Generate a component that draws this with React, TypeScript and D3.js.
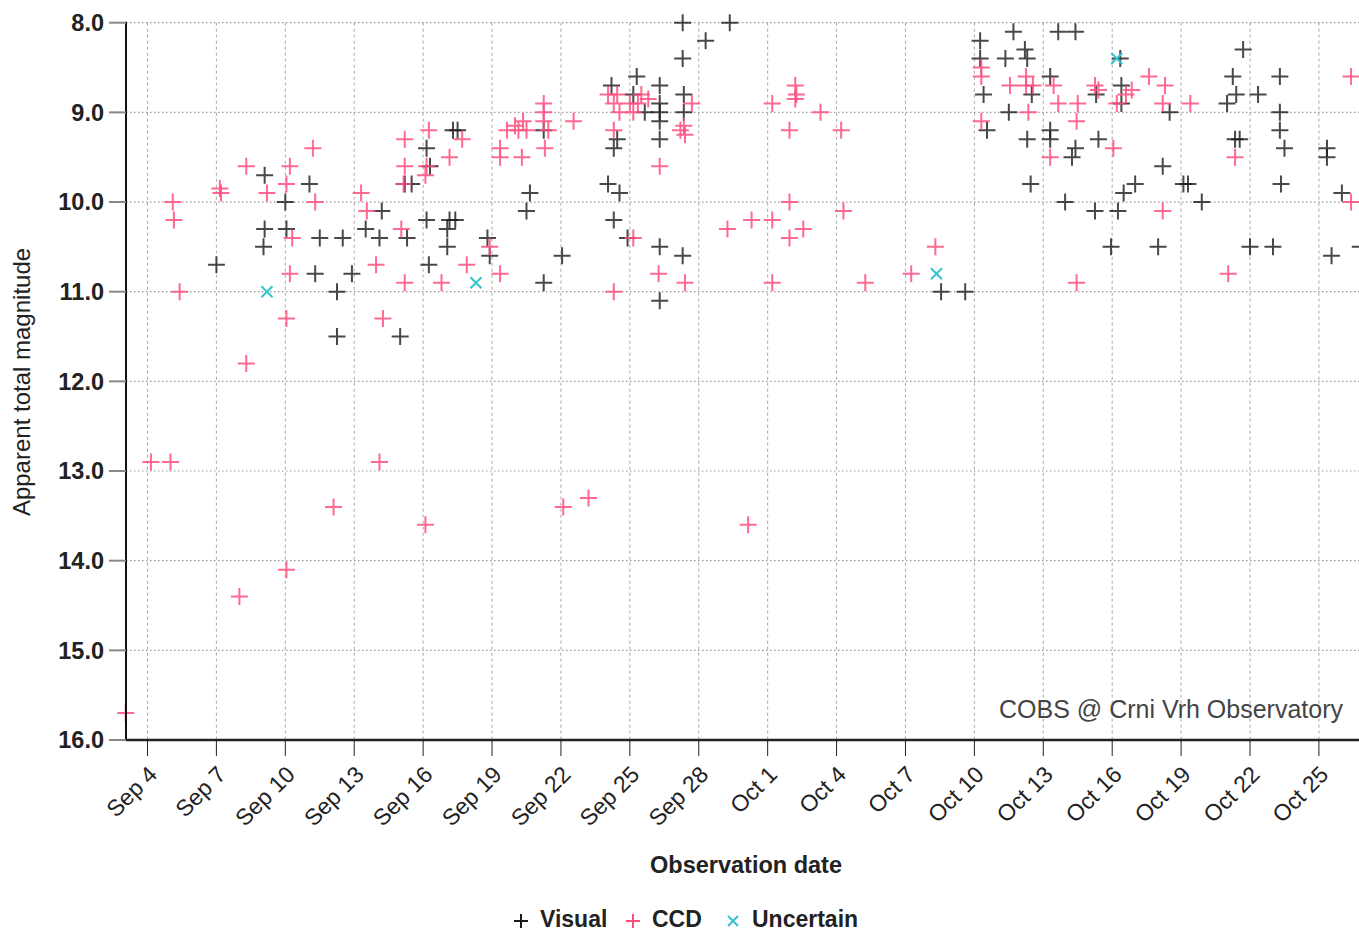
import React, { useEffect, useRef } from 'react';
import * as d3 from 'd3';

const width = 1359;
const height = 933;
const plotLeft = 126;
const plotTop = 22.7;
const plotBottom = 740;

// [day of September (Oct 1 = 31), apparent total magnitude]
const visual: [number, number][] = [
  [7.0, 10.7], [9.1, 9.7], [9.1, 10.3], [9.05, 10.5], [10.0, 10.0], [10.05, 10.3],
  [11.05, 9.8], [11.5, 10.4], [11.3, 10.8], [12.5, 10.4], [12.25, 11.0], [12.25, 11.5],
  [12.9, 10.8], [13.5, 10.3], [14.1, 10.4], [14.2, 10.1], [15.0, 11.5], [15.3, 10.4],
  [15.2, 9.8], [15.5, 9.8], [16.15, 9.4], [16.3, 9.6], [16.15, 10.2], [16.25, 10.7],
  [17.3, 9.2], [17.5, 9.2], [17.05, 10.5], [17.05, 10.3], [17.15, 10.2], [17.4, 10.2],
  [18.8, 10.4], [18.9, 10.6], [20.5, 10.1], [20.65, 9.9], [21.25, 9.2], [21.25, 10.9],
  [22.05, 10.6],
  [24.2, 8.7], [25.3, 8.6], [25.15, 8.8], [25.65, 9.0], [26.3, 8.7], [26.3, 8.9],
  [26.3, 9.0], [26.3, 9.1], [26.3, 9.3], [27.3, 8.0], [29.35, 8.0], [28.3, 8.2],
  [27.3, 8.4], [27.35, 8.8], [27.35, 9.0], [24.45, 9.3], [24.3, 9.4], [24.05, 9.8],
  [24.55, 9.9], [24.3, 10.2], [24.9, 10.4], [26.3, 10.5], [27.3, 10.6], [26.3, 11.1],
  [38.55, 11.0], [39.6, 11.0], [40.25, 8.2], [40.25, 8.4], [40.4, 8.8], [40.55, 9.2],
  [41.7, 8.1], [41.35, 8.4], [41.5, 9.0], [42.2, 8.3], [42.3, 8.4], [42.5, 8.8],
  [42.3, 9.3], [42.45, 9.8], [43.65, 8.1], [44.4, 8.1], [43.3, 8.6], [43.3, 9.2],
  [43.3, 9.3], [44.4, 9.4], [44.25, 9.5], [43.95, 10.0], [45.3, 8.8], [45.4, 9.3],
  [45.25, 10.1], [46.25, 10.1], [45.95, 10.5], [46.35, 8.4], [46.4, 8.7], [46.4, 8.9],
  [46.5, 9.9], [47.0, 9.8], [48.5, 9.0], [48.2, 9.6], [48.0, 10.5], [49.1, 9.8],
  [49.3, 9.8], [49.9, 10.0], [51.7, 8.3], [51.25, 8.6], [51.4, 8.8], [51.0, 8.9],
  [52.35, 8.8], [51.35, 9.3], [51.55, 9.3], [52.0, 10.5], [53.0, 10.5], [53.3, 8.6],
  [53.3, 9.0], [53.3, 9.2], [53.5, 9.4], [53.35, 9.8], [55.35, 9.4], [55.35, 9.5],
  [55.55, 10.6], [56.0, 9.9], [56.8, 10.5],
];

const ccd: [number, number][] = [
  [3.05, 15.7], [4.15, 12.9], [5.0, 12.9], [5.1, 10.0], [5.15, 10.2], [5.4, 11.0],
  [7.15, 9.85], [7.2, 9.9], [8.0, 14.4], [8.3, 9.6], [8.3, 11.8], [9.2, 9.9],
  [10.05, 9.8], [10.2, 9.6], [10.3, 10.4], [10.2, 10.8], [10.05, 11.3], [10.05, 14.1],
  [11.2, 9.4], [11.3, 10.0], [12.1, 13.4], [13.3, 9.9], [13.55, 10.1], [13.95, 10.7],
  [14.1, 12.9], [14.25, 11.3], [15.2, 9.3], [15.2, 9.6], [15.15, 9.8], [15.05, 10.3],
  [15.2, 10.9], [16.1, 9.7], [16.15, 9.6], [16.25, 9.2], [16.1, 13.6], [16.8, 10.9],
  [17.15, 9.5], [17.7, 9.3], [17.9, 10.7], [18.9, 10.5], [19.35, 10.8], [19.35, 9.4],
  [19.35, 9.5], [19.65, 9.2], [20.0, 9.15], [20.15, 9.2], [20.35, 9.1], [20.5, 9.2],
  [20.3, 9.5], [21.25, 8.9], [21.25, 9.0], [21.25, 9.1], [21.45, 9.2], [21.3, 9.4],
  [22.55, 9.1], [22.1, 13.4], [23.2, 13.3],
  [24.05, 8.8], [24.45, 8.8], [24.3, 8.9], [24.55, 9.0], [25.0, 8.9], [25.15, 9.0],
  [25.5, 8.8], [25.8, 8.85], [25.35, 8.9], [24.3, 9.2], [24.3, 11.0], [25.15, 10.4],
  [26.3, 9.6], [26.25, 10.8], [27.2, 9.2], [27.35, 9.15], [27.4, 9.25], [27.7, 8.9],
  [27.4, 10.9], [29.25, 10.3], [30.15, 13.6], [30.3, 10.2], [31.2, 10.2], [31.2, 8.9],
  [31.2, 10.9], [31.95, 9.2], [31.95, 10.0], [31.95, 10.4], [32.2, 8.7], [32.25, 8.8],
  [32.2, 8.85], [32.55, 10.3], [33.3, 9.0], [34.2, 9.2], [34.3, 10.1], [35.25, 10.9],
  [37.25, 10.8], [38.3, 10.5], [40.3, 8.5], [40.3, 8.6], [40.3, 9.1], [41.55, 8.7],
  [42.25, 8.6], [42.25, 8.7], [42.55, 8.7], [42.35, 9.0], [43.45, 8.7], [43.65, 8.9],
  [44.5, 8.9], [44.45, 9.1], [43.3, 9.5], [44.45, 10.9], [45.25, 8.7], [45.4, 8.75],
  [46.2, 8.9], [46.6, 8.8], [46.85, 8.75], [46.05, 9.4], [47.6, 8.6], [48.3, 8.7],
  [48.2, 8.9], [49.4, 8.9], [48.2, 10.1], [51.35, 9.5], [51.05, 10.8], [56.4, 8.6],
  [56.4, 10.0],
];

const uncertain: [number, number][] = [
  [9.2, 11.0], [18.3, 10.9], [38.35, 10.8], [46.2, 8.4],
];

const magTicks = [8, 9, 10, 11, 12, 13, 14, 15, 16];
const dateTicks = [4, 7, 10, 13, 16, 19, 22, 25, 28, 31, 34, 37, 40, 43, 46, 49, 52, 55];

const toDate = (d: number) => new Date(Date.UTC(2023, 8, 1) + (d - 1) * 864e5);

const FONT = '"Liberation Sans", Arial, sans-serif';
const PINK = '#ff4f7e';
const CYAN = '#35c3cf';
const DARK = '#1a1a1a';

function App() {
  const ref = useRef<SVGSVGElement>(null);

  useEffect(() => {
    const svg = d3.select(ref.current);
    svg.selectAll('*').remove();

    const x = d3.scaleUtc()
      .domain([toDate(3.064), toDate(58.53)])
      .range([plotLeft, 1400]);
    const y = d3.scaleLinear()
      .domain([8, 16])
      .range([plotTop, plotBottom]);

    // grid
    svg.append('g')
      .selectAll('line')
      .data(dateTicks)
      .enter()
      .append('line')
        .attr('x1', d => x(toDate(d)))
        .attr('x2', d => x(toDate(d)))
        .attr('y1', plotTop)
        .attr('y2', plotBottom)
        .attr('stroke', '#a8a8a8')
        .attr('stroke-width', 1)
        .attr('stroke-dasharray', '3,3');

    svg.append('g')
      .selectAll('line')
      .data(magTicks)
      .enter()
      .append('line')
        .attr('x1', plotLeft)
        .attr('x2', width)
        .attr('y1', d => y(d))
        .attr('y2', d => y(d))
        .attr('stroke', '#999')
        .attr('stroke-width', 1.2)
        .attr('stroke-dasharray', '1.5,2.5');

    const cross = (cx: number, cy: number, r: number) =>
      `M${cx - r},${cy}H${cx + r}M${cx},${cy - r}V${cy + r}`;
    const xmark = (cx: number, cy: number, r: number) =>
      `M${cx - r},${cy - r}L${cx + r},${cy + r}M${cx - r},${cy + r}L${cx + r},${cy - r}`;

    svg.append('g')
      .selectAll('path')
      .data(visual)
      .enter()
      .append('path')
        .attr('d', d => cross(x(toDate(d[0])), y(d[1]), 8.5))
        .attr('stroke', DARK)
        .attr('stroke-opacity', 0.8)
        .attr('stroke-width', 2);

    svg.append('g')
      .selectAll('path')
      .data(ccd)
      .enter()
      .append('path')
        .attr('d', d => cross(x(toDate(d[0])), y(d[1]), 8.5))
        .attr('stroke', PINK)
        .attr('stroke-opacity', 0.85)
        .attr('stroke-width', 2);

    svg.append('g')
      .selectAll('path')
      .data(uncertain)
      .enter()
      .append('path')
        .attr('d', d => xmark(x(toDate(d[0])), y(d[1]), 5.5))
        .attr('stroke', CYAN)
        .attr('stroke-width', 2);

    // y axis
    svg.append('line')
      .attr('x1', plotLeft).attr('x2', plotLeft)
      .attr('y1', plotTop - 1).attr('y2', plotBottom)
      .attr('stroke', '#111').attr('stroke-width', 2);
    const yt = svg.append('g')
      .selectAll('g')
      .data(magTicks)
      .enter()
      .append('g');
    yt.append('line')
      .attr('x1', 109).attr('x2', plotLeft)
      .attr('y1', d => y(d)).attr('y2', d => y(d))
      .attr('stroke', '#888').attr('stroke-width', 2);
    yt.append('text')
      .attr('x', 104)
      .attr('y', d => y(d))
      .attr('dy', '0.36em')
      .attr('text-anchor', 'end')
      .style('font-family', FONT)
      .style('font-size', '23.5px')
      .style('font-weight', 'bold')
      .style('fill', '#222')
      .text(d => d3.format('.1f')(d));

    // x axis
    svg.append('line')
      .attr('x1', plotLeft).attr('x2', width)
      .attr('y1', plotBottom).attr('y2', plotBottom)
      .attr('stroke', '#222').attr('stroke-width', 2.5);
    const xt = svg.append('g')
      .selectAll('g')
      .data(dateTicks)
      .enter()
      .append('g')
        .attr('transform', d => `translate(${x(toDate(d))},${plotBottom})`);
    xt.append('line')
      .attr('y1', 0).attr('y2', 16)
      .attr('stroke', '#222').attr('stroke-width', 1);
    xt.append('text')
      .attr('transform', 'translate(11,36) rotate(-45)')
      .attr('text-anchor', 'end')
      .style('font-family', FONT)
      .style('font-size', '23px')
      .style('fill', '#222')
      .text(d => d3.utcFormat('%b %-d')(toDate(d)));

    // axis titles
    svg.append('text')
      .attr('x', 746).attr('y', 873)
      .attr('text-anchor', 'middle')
      .style('font-family', FONT)
      .style('font-size', '23.5px')
      .style('font-weight', 'bold')
      .style('fill', '#222')
      .text('Observation date');
    svg.append('text')
      .attr('transform', 'translate(30,382) rotate(-90)')
      .attr('text-anchor', 'middle')
      .style('font-family', FONT)
      .style('font-size', '24px')
      .style('fill', '#222')
      .text('Apparent total magnitude');

    // credit
    svg.append('text')
      .attr('x', 1343).attr('y', 718)
      .attr('text-anchor', 'end')
      .style('font-family', FONT)
      .style('font-size', '25px')
      .style('fill', '#444')
      .text('COBS @ Crni Vrh Observatory');

    // legend
    const legend = [
      { label: 'Visual', color: DARK, x: 521, shape: 'cross' },
      { label: 'CCD', color: PINK, x: 633, shape: 'cross' },
      { label: 'Uncertain', color: CYAN, x: 733, shape: 'x' },
    ];
    const lg = svg.append('g')
      .selectAll('g')
      .data(legend)
      .enter()
      .append('g');
    lg.append('path')
      .attr('d', d => d.shape === 'x' ? xmark(d.x, 921, 5) : cross(d.x, 921, 7))
      .attr('stroke', d => d.color)
      .attr('stroke-width', 2);
    lg.append('text')
      .attr('x', d => d.x + 19)
      .attr('y', 927)
      .style('font-family', FONT)
      .style('font-size', '23px')
      .style('font-weight', 'bold')
      .style('fill', '#222')
      .text(d => d.label);
  }, []);

  return (
    <svg
      ref={ref}
      width={width}
      height={height}
      style={{ position: 'absolute', left: 0, top: 0, background: '#fff' }}
    />
  );
}

export default App;
